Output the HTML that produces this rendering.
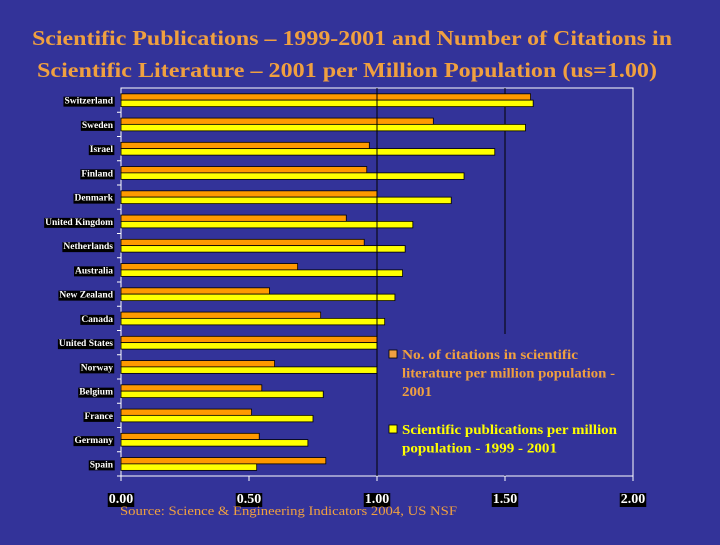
<!DOCTYPE html>
<html><head><meta charset="utf-8"><style>
body{margin:0;width:720px;height:540px;background:#333399;overflow:hidden;font-family:"Liberation Serif",serif}
</style></head><body>
<svg width="720" height="540" xmlns="http://www.w3.org/2000/svg">
<text x="352" y="45" text-anchor="middle" font-family="Liberation Serif" font-weight="bold" font-size="21" fill="#F0A040" textLength="640" lengthAdjust="spacingAndGlyphs">Scientific Publications – 1999-2001 and Number of Citations in</text>
<text x="347" y="77" text-anchor="middle" font-family="Liberation Serif" font-weight="bold" font-size="21" fill="#F0A040" textLength="620" lengthAdjust="spacingAndGlyphs">Scientific Literature – 2001 per Million Population (us=1.00)</text>
<g id="plot"></g>
<text x="120" y="515" font-family="Liberation Serif" font-size="13" fill="#F0A040" textLength="337" lengthAdjust="spacingAndGlyphs">Source: Science &amp; Engineering Indicators 2004, US NSF</text>
</svg>
<script>
const categories=["Switzerland","Sweden","Israel","Finland","Denmark","United Kingdom","Netherlands","Australia","New Zealand","Canada","United States","Norway","Belgium","France","Germany","Spain"];
const citations=[1.60,1.22,0.97,0.96,1.00,0.88,0.95,0.69,0.58,0.78,1.00,0.60,0.55,0.51,0.54,0.80];
const publications=[1.61,1.58,1.46,1.34,1.29,1.14,1.11,1.10,1.07,1.03,1.00,1.00,0.79,0.75,0.73,0.53];
const ticks=[0,0.5,1,1.5,2];
const tickLabels=["0.00","0.50","1.00","1.50","2.00"];
const NS="http://www.w3.org/2000/svg";
const g=document.getElementById('plot');
const X0=121,X1=633,Y0=88,Y1=476;
const xs=v=>X0+(X1-X0)*v/2;
const band=(Y1-Y0)/categories.length;
const ys=i=>Y0+band*i;
function mk(t,a){const e=document.createElementNS(NS,t);for(const k in a)e.setAttribute(k,a[k]);g.appendChild(e);return e;}
let fr=mk('rect',{x:X0,y:Y0,width:X1-X0,height:Y1-Y0,fill:'none',stroke:'#fff','stroke-width':1});


[1,1.5].forEach(v=>{const l=mk('line',{x1:xs(v),x2:xs(v),y1:Y0,y2:Y1,stroke:'#000','stroke-width':1});

});
categories.forEach((c,i)=>{
 const cy=ys(i)+band/2;
 const b1=mk('rect',{x:X0,y:cy-6.3,width:xs(citations[i])-X0,height:6.3,fill:'#FF9900',stroke:'#000','stroke-width':0.8});
 
 
 const b2=mk('rect',{x:X0,y:cy,width:xs(publications[i])-X0,height:6.5,fill:'#FFFF00',stroke:'#000','stroke-width':0.8});
 
 
 const t=mk('text',{x:X0-8,y:cy+3.5,'text-anchor':'end','font-family':'Liberation Serif','font-weight':'bold','font-size':'9.5',fill:'#fff'});
 t.textContent=c;
 
 
 const bb=t.getBBox();
 const bg=document.createElementNS(NS,'rect');
 bg.setAttribute('x',bb.x-1);bg.setAttribute('y',bb.y);bg.setAttribute('width',bb.width+2);bg.setAttribute('height',bb.height);bg.setAttribute('fill','#000');
 g.insertBefore(bg,t);
 const tk=mk('line',{x1:X0-4,x2:X0,y1:ys(i+1),y2:ys(i+1),stroke:'#fff'});
 
 
});
const lg=mk('rect',{x:xs(1),y:334,width:X1-xs(1)-0.5,height:Y1-334-0.5,fill:'#333399'});


mk('line',{x1:xs(1),x2:xs(1),y1:Y0,y2:Y1,stroke:'#000'});
mk('line',{x1:X1,x2:X1,y1:Y0,y2:Y1,stroke:'#fff'});
function legItem(y,color,lines,lens,name){
 const s=mk('rect',{x:389,y:y-9,width:8,height:8,fill:color,stroke:'#000','stroke-width':0.8});
 
 
 lines.forEach((ln,k)=>{const t=mk('text',{x:402,y:y+k*18.5,'font-family':'Liberation Serif','font-weight':'bold','font-size':'14',fill:color,textLength:lens[k],lengthAdjust:'spacingAndGlyphs'});t.textContent=ln;
 
 });
}
legItem(359,'#F0A040',['No. of citations in scientific','literature per million population -','2001'],[176,213,30],'legend-citations');
legItem(434,'#FFFF00',['Scientific publications per million','population - 1999 - 2001'],[215,155],'legend-publications');
ticks.forEach((v,i)=>{
 const tk=mk('line',{x1:xs(v),x2:xs(v),y1:Y1,y2:Y1+5,stroke:'#fff'});
 
 
 const t=mk('text',{x:xs(v),y:503,'text-anchor':'middle','font-family':'Liberation Serif','font-weight':'bold','font-size':'14',fill:'#fff'});
 t.textContent=tickLabels[i];
 
 
 const bb=t.getBBox();
 const bg=document.createElementNS(NS,'rect');
 bg.setAttribute('x',bb.x-1);bg.setAttribute('y',bb.y+1);bg.setAttribute('width',bb.width+2);bg.setAttribute('height',bb.height-1);bg.setAttribute('fill','#000');
 g.insertBefore(bg,t);
});
</script>
</body></html>
